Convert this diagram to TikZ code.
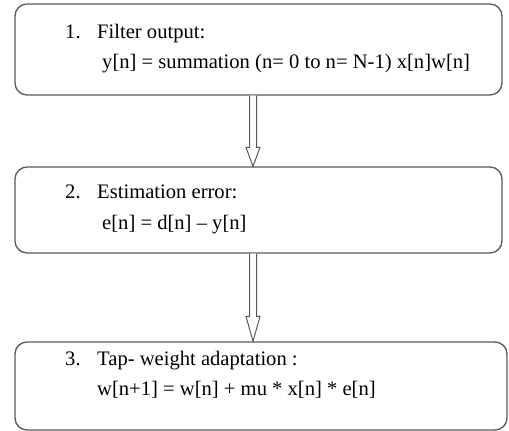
\documentclass[tikz,border=0pt]{standalone}
\usepackage{fontspec}
\setmainfont{Liberation Serif}
\usetikzlibrary{calc}

\begin{document}
\begin{tikzpicture}[x=1pt,y=1pt]
	\tikzset{stepbox/.style = {draw=black!65,line width=1.3pt,rounded corners=12pt,inner sep=0pt}}
	\tikzset{txt/.style={anchor=west,inner sep=0pt,font=\fontsize{20.6}{24}\selectfont,text height=14pt,text depth=4pt}}
	\tikzset{hollow/.style={draw=black!65,line width=1pt,fill=white,line join=miter}}
	\useasboundingbox (0,0) rectangle (509,431);

	% boxes
	\node[stepbox,minimum width=487pt,minimum height=91pt] (b1) at (258.5,381.5) {};
	\node[stepbox,minimum width=487pt,minimum height=86pt] (b2) at (258.5,221) {};
	\node[stepbox,minimum width=492pt,minimum height=88pt] (b3) at (261,45) {};

	% texts
	\node[txt] (n1) at (65,397) {1.};
	\node[txt] (t1) at (97,397) {Filter output:};
	\node[txt] (f1) at (102,367) {y[n] = summation (n= 0 to n= N-1) x[n]w[n]};
	\node[txt] (n2) at (65,237) {2.};
	\node[txt] (t2) at (97,237) {Estimation error:};
	\node[txt] (f2) at (102,206) {e[n] = d[n] -- y[n]};
	\node[txt] (n3) at (65,70) {3.};
	\node[txt] (t3) at (97,70) {Tap- weight adaptation :};
	\node[txt] (f3) at (97,40) {w[n+1] = w[n] + mu * x[n] * e[n]};

	% arrows
	\draw[hollow] ($(b1.south)+(-9,0)$) -- ($(b2.north)+(-9,19)$) -- ($(b2.north)+(-12.5,19)$)
		-- ($(b2.north)+(-5.5,0)$) -- ($(b2.north)+(1.5,19)$) -- ($(b2.north)+(-2,19)$) -- ($(b1.south)+(-2,0)$);
	\draw[hollow] ($(b2.south)+(-9,0)$) -- ($(b3.north)+(-11.5,25)$) -- ($(b3.north)+(-15,25)$)
		-- ($(b3.north)+(-8,0)$) -- ($(b3.north)+(-1,25)$) -- ($(b3.north)+(-4.5,25)$) -- ($(b2.south)+(-2,0)$);
\end{tikzpicture}
\end{document}
